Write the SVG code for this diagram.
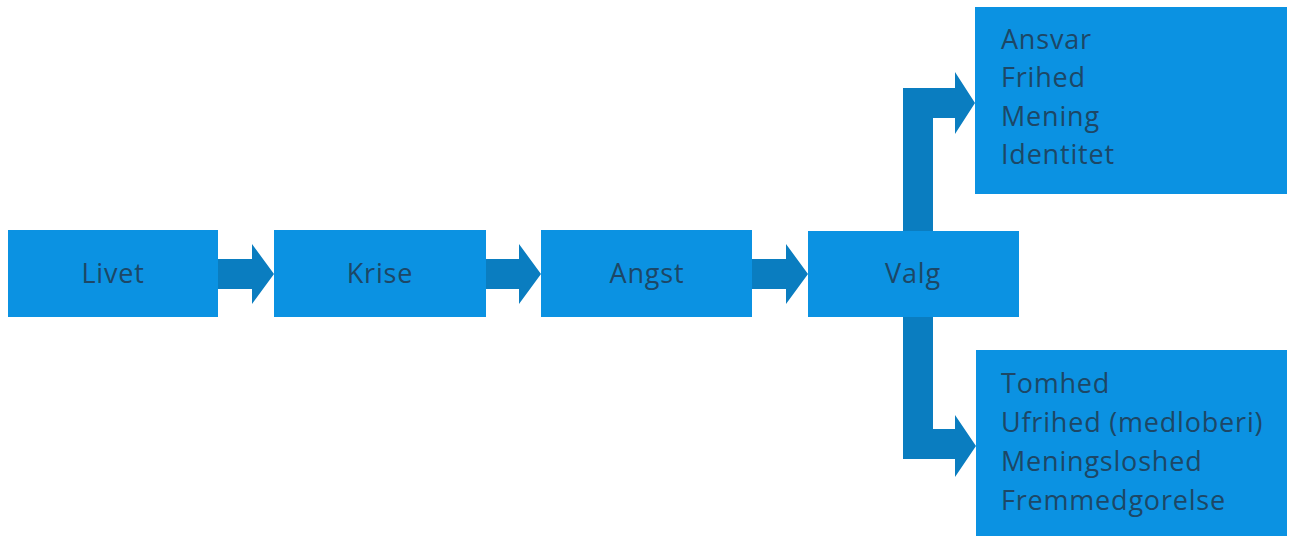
<svg xmlns="http://www.w3.org/2000/svg" width="1293" height="536" viewBox="0 0 1293 536">
<style>
.box{fill:#0b92e2}
.arr{fill:#0a7dc0}
.t{font-family:"Open Sans","Noto Sans",sans-serif;font-size:27px;letter-spacing:0.8px;fill:#1d4766}
.c{text-anchor:middle}
</style>
<rect width="1293" height="536" fill="#ffffff"/>
<g id="connectors">
<polygon class="arr" points="218,259 252,259 252,244 274,274 252,304 252,289 218,289"/>
<polygon class="arr" points="486,259 519,259 519,244 541,274 519,304 519,289 486,289"/>
<polygon class="arr" points="752,259 786,259 786,244 808,274 786,304 786,289 752,289"/>
<polygon class="arr" points="903,231 903,88 955,88 955,72 975,103 955,134 955,118 933,118 933,231"/>
<polygon class="arr" points="903,317 903,459 955,459 955,477 976,446 955,415 955,429 933,429 933,317"/>
</g>
<g id="livet"><rect class="box" x="8" y="230" width="210" height="87"/><text class="t c" x="113" y="283">Livet</text></g>
<g id="krise"><rect class="box" x="274" y="230" width="212" height="87"/><text class="t c" x="380" y="283">Krise</text></g>
<g id="angst"><rect class="box" x="541" y="230" width="211" height="87"/><text class="t c" x="647" y="283">Angst</text></g>
<g id="valg"><rect class="box" x="808" y="231" width="211" height="86"/><text class="t c" x="913" y="283">Valg</text></g>
<g id="positiv"><rect class="box" x="975" y="7" width="312" height="187"/>
<text class="t" x="1001" y="49">Ansvar</text>
<text class="t" x="1001" y="87">Frihed</text>
<text class="t" x="1001" y="126">Mening</text>
<text class="t" x="1001" y="164">Identitet</text></g>
<g id="negativ"><rect class="box" x="976" y="350" width="311" height="190"/>
<text class="t" x="1001" y="393">Tomhed</text>
<text class="t" x="1001" y="432">Ufrihed (medloberi)</text>
<text class="t" x="1001" y="471">Meningsloshed</text>
<text class="t" x="1001" y="510">Fremmedgorelse</text></g>
</svg>
